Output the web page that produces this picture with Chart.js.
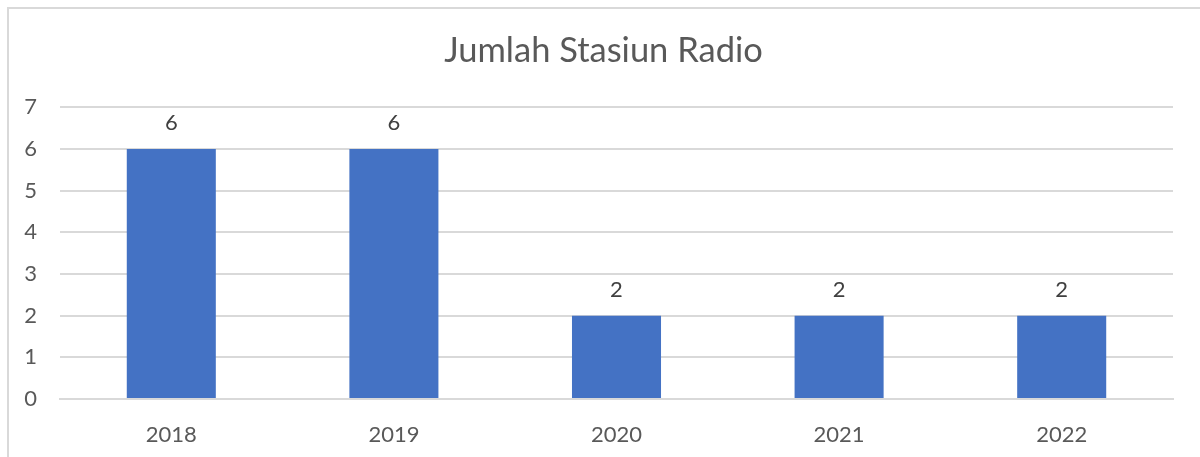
<!DOCTYPE html>
<html>
<head>
<meta charset="utf-8">
<script src="https://cdn.jsdelivr.net/npm/chart.js@4.4.0/dist/chart.umd.min.js"></script>
<style>
  html, body { margin: 0; padding: 0; background: #fff; overflow: hidden; }
  #frame {
    position: absolute; left: 7px; top: 7px; width: 1300px; height: 500px;
    border-left: 2px solid #d9d9d9; border-top: 2px solid #d9d9d9;
  }
  #wrap { position: absolute; left: 0; top: 0; width: 1200px; height: 457px; }
</style>
</head>
<body>
<div id="frame"></div>
<div id="wrap"><canvas id="radioChart"></canvas></div>
<script>
  // Data
  const years = ['2018', '2019', '2020', '2021', '2022'];
  const stationCounts = [6, 6, 2, 2, 2];
  const yTicks = [0, 1, 2, 3, 4, 5, 6, 7];

  const FONT = 'Lato, "Open Sans", sans-serif';
  const TEXT = '#595959';

  // Value labels drawn over each bar
  const valueLabels = {
    id: 'valueLabels',
    afterDatasetsDraw(chart) {
      const ctx = chart.ctx;
      const meta = chart.getDatasetMeta(0);
      ctx.save();
      ctx.font = '22px ' + FONT;
      ctx.fillStyle = '#404040';
      ctx.textAlign = 'center';
      ctx.textBaseline = 'middle';
      meta.data.forEach((bar, i) => {
        ctx.fillText(String(stationCounts[i]), bar.x, bar.y - 26);
      });
      ctx.restore();
    }
  };

  const ctx = document.getElementById('radioChart').getContext('2d');

  new Chart(ctx, {
    type: 'bar',
    data: {
      labels: years,
      datasets: [{
        label: 'Jumlah Stasiun Radio',
        data: stationCounts,
        backgroundColor: '#4472c4',
        categoryPercentage: 1,
        barPercentage: 0.4
      }]
    },
    options: {
      responsive: true,
      maintainAspectRatio: false,
      animation: false,
      layout: { padding: { left: 7, right: 0, top: 0, bottom: 0 } },
      plugins: {
        legend: { display: false },
        tooltip: { enabled: false },
        title: {
          display: true,
          text: 'Jumlah Stasiun Radio',
          color: TEXT,
          font: { family: FONT, size: 34.5, weight: 'normal' },
          padding: { top: 30, bottom: 36 }
        }
      },
      scales: {
        x: {
          grid: { display: false },
          border: { display: true, color: '#d9d9d9', width: 2 },
          ticks: {
            color: TEXT,
            font: { family: FONT, size: 22 },
            padding: 15
          },
          afterFit(scale) { scale.height = 58; }
        },
        y: {
          min: 0,
          max: 7,
          afterBuildTicks(scale) {
            scale.ticks = yTicks.map(v => ({ value: v }));
          },
          grid: { color: '#d9d9d9', lineWidth: 2, drawTicks: false },
          border: { display: false },
          ticks: {
            color: TEXT,
            font: { family: FONT, size: 22 },
            padding: 23
          },
          afterFit(scale) { scale.width = 53; }
        },
        // empty right-hand margin so the plot ends short of the frame
        yRight: {
          position: 'right',
          grid: { display: false },
          border: { display: false },
          ticks: { display: false },
          afterFit(scale) { scale.width = 27; }
        }
      }
    },
    plugins: [valueLabels]
  });
</script>
</body>
</html>
